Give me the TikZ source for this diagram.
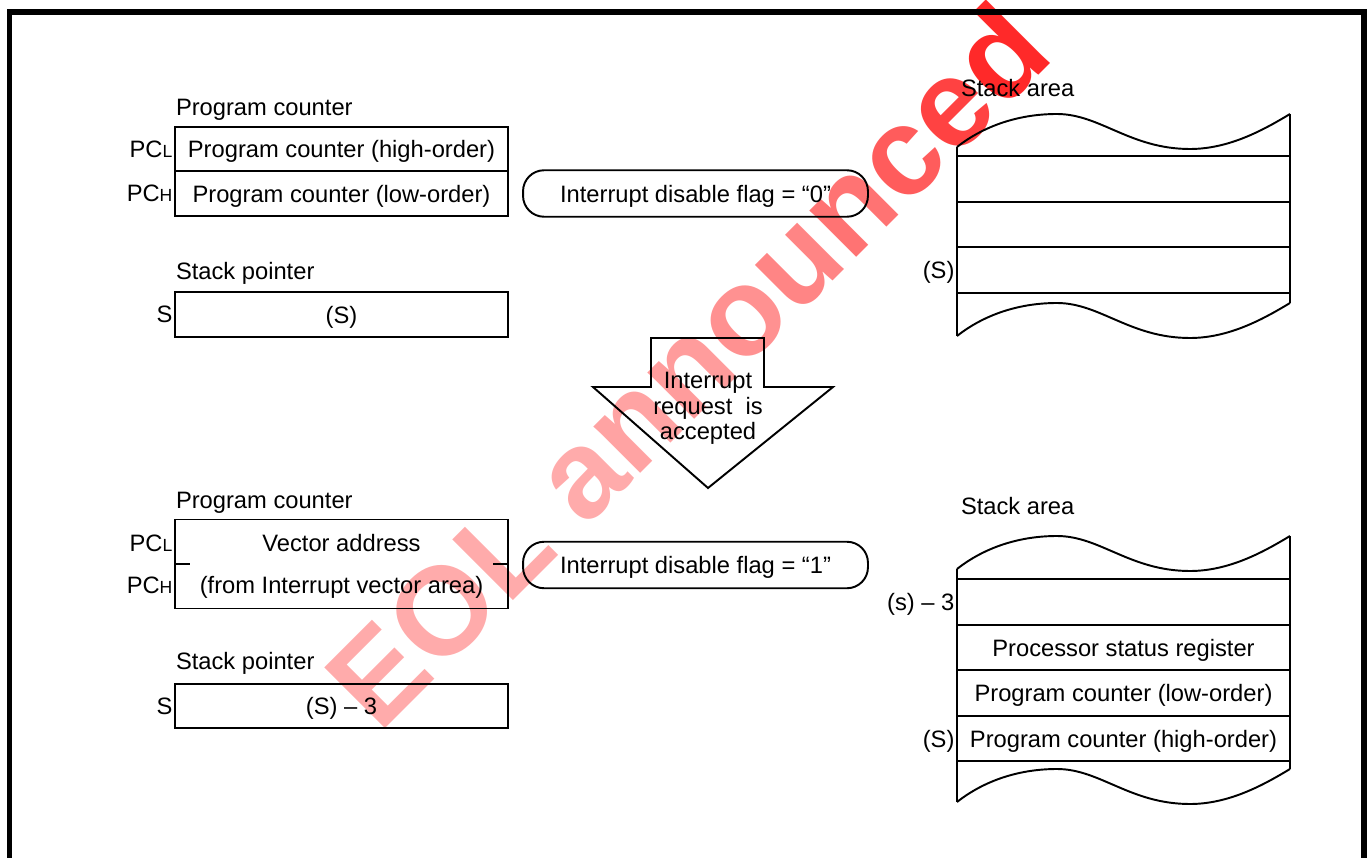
\documentclass[tikz,border=0pt]{standalone}
\usepackage{fontspec}
\setmainfont{Liberation Sans}
\usetikzlibrary{positioning}

\newcommand{\regfont}{\fontsize{13.5}{16}\selectfont}
\newcommand{\smallsub}[1]{{\fontsize{10}{12}\selectfont #1}}

\begin{document}
\begin{tikzpicture}[x=0.02cm, y=-0.02cm, line width=1.1pt,
    lbl/.style={inner sep=0pt, outer sep=0pt, text depth=0pt, font=\regfont},
    regbox/.style={rectangle, draw, minimum width=6.66cm, minimum height=0.89cm,
                inner sep=0pt, outer sep=0pt, text depth=0pt, font=\regfont},
    vecbox/.style={rectangle, draw, minimum width=6.66cm, minimum height=1.78cm,
                inner sep=0pt, outer sep=0pt, text depth=0pt, align=center,
                font=\fontsize{13.5}{23.8}\selectfont},
    flagbox/.style={rectangle, draw, rounded corners=0.42cm, minimum width=6.9cm,
                minimum height=0.93cm, inner sep=0pt, outer sep=0pt, text depth=0pt, font=\regfont},
    stackrow/.style={rectangle, draw, minimum width=6.66cm, minimum height=0.91cm,
                inner sep=0pt, outer sep=0pt, text depth=0pt, font=\regfont},
    stackwave/.pic={\draw (0,0) .. controls (28,-22) and (63,-33) .. (100,-33)
                .. controls (143,-33) and (173,2) .. (233,2)
                .. controls (273,2) and (308,-18) .. (333,-33);}]

    \useasboundingbox (0,0) rectangle (1372,858);

    % watermark, under everything else
    \node[rotate=45, inner sep=0pt, text depth=0pt, font=\fontsize{71}{71}\selectfont\bfseries] (eol) at (686,364)
        {\textcolor{red!33}{EOL} \textcolor{red!33}{a}\textcolor{red!36}{n}\textcolor{red!39}{n}\textcolor{red!43}{o}\textcolor{red!48}{u}\textcolor{red!55}{n}\textcolor{red!64}{c}\textcolor{red!74}{e}\textcolor{red!84}{d}};

    \draw[line width=3.4pt] (9.5,858) -- (9.5,11.7) -- (1363.5,11.7) -- (1363.5,858);

    % before the interrupt
    \node[lbl, anchor=west] (pctitle1) at (176,107.5) {Program counter};
    \node[regbox] (pchigh1) at (341.5,149) {Program counter (high-order)};
    \node[regbox, below=0pt of pchigh1] (pclow1) {Program counter (low-order)};
    \node[lbl, left=1.5pt of pchigh1] (pcl1) {PC\smallsub{L}};
    \node[lbl, left=1.5pt of pclow1] (pch1) {PC\smallsub{H}};

    \node[lbl, anchor=west] (sptitle1) at (176,270.5) {Stack pointer};
    \node[regbox] (sp1) at (341.5,314.5) {(S)};
    \node[lbl, left=1.5pt of sp1] (spl1) {S};

    \node[flagbox] (flag1) at (695.5,193.5) {Interrupt disable flag = “0”};

    \node[lbl, anchor=west] (satitle1) at (961,88) {Stack area};
    \node[stackrow] (sa1r1) at (1123.5,179) {};
    \node[stackrow, below=0pt of sa1r1] (sa1r2) {};
    \node[stackrow, below=0pt of sa1r2] (sa1r3) {};
    \node[lbl, left=1.5pt of sa1r3] (sa1s) {(S)};
    \draw (957,147) -- (957,336);
    \draw (1290,114) -- (1290,303);
    \pic at (957,147) {stackwave};
    \pic at (957,336) {stackwave};

    % interrupt request
    \draw (651,338) -- (764,338) -- (764,387) -- (833,387) -- (708,488) -- (593,387) -- (651,387) -- cycle;
    \node[lbl, align=center, font=\fontsize{13.5}{14.5}\selectfont] (irq) at (708,406) {Interrupt\\request\ \ is\\accepted};

    % after the interrupt
    \node[lbl, anchor=west] (pctitle2) at (176,500) {Program counter};
    \node[vecbox] (vec) at (341.5,564) {Vector address\\(from Interrupt vector area)};
    \draw (vec.west) -- ++(15,0);
    \draw (vec.east) -- ++(-15,0);
    \node[lbl, left=1.5pt of vec.west, yshift=0.42cm] (pcl2) {PC\smallsub{L}};
    \node[lbl, left=1.5pt of vec.west, yshift=-0.42cm] (pch2) {PC\smallsub{H}};

    \node[lbl, anchor=west] (sptitle2) at (176,661) {Stack pointer};
    \node[regbox] (sp2) at (341.5,706) {(S) – 3};
    \node[lbl, left=1.5pt of sp2] (spl2) {S};

    \node[flagbox] (flag2) at (695.5,565) {Interrupt disable flag = “1”};

    \node[lbl, anchor=west] (satitle2) at (961,505.5) {Stack area};
    \node[stackrow] (sa2r1) at (1123.5,602) {};
    \node[stackrow, below=0pt of sa2r1] (sa2r2) {Processor status register};
    \node[stackrow, below=0pt of sa2r2] (sa2r3) {Program counter (low-order)};
    \node[stackrow, below=0pt of sa2r3] (sa2r4) {Program counter (high-order)};
    \node[lbl, left=1.5pt of sa2r1] (sa2s3) {(s) – 3};
    \node[lbl, left=1.5pt of sa2r4] (sa2s) {(S)};
    \draw (957,569) -- (957,802);
    \draw (1290,536) -- (1290,769);
    \pic at (957,569) {stackwave};
    \pic at (957,802) {stackwave};
\end{tikzpicture}
\end{document}
